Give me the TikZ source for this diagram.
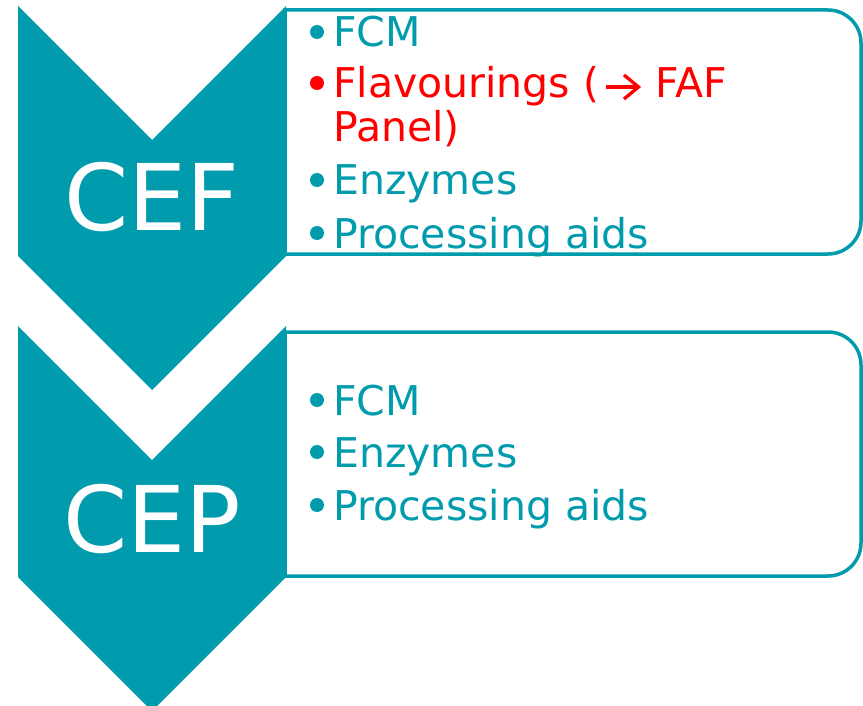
\documentclass[tikz,border=0pt]{standalone}
\usepackage{fontspec}
\setmainfont{DejaVu Sans}
\definecolor{teal}{RGB}{0,155,172}
\definecolor{redtext}{RGB}{255,0,0}
\begin{document}
\begin{tikzpicture}[x=1pt,y=-1pt,
  chev/.style={fill=teal,draw=none},
  listbox/.style={draw=teal,line width=3.5pt,fill=white},
  big/.style={text=white,inner sep=0pt,anchor=base,font=\fontsize{92}{92}\selectfont},
  item/.style={text=teal,inner sep=0pt,anchor=base west,font=\fontsize{41}{41}\selectfont},
  reditem/.style={item,text=redtext},
  dot/.style={circle,fill=teal,inner sep=0pt,minimum size=14pt},
  reddot/.style={dot,fill=redtext},
  redarrow/.style={draw=redtext,line width=3.3pt}]
\useasboundingbox (0,0) rectangle (863,706);
% boxes
\draw[listbox] (285,10) -- (828,10) arc[start angle=-90,end angle=0,radius=33]
  -- (861,221) arc[start angle=0,end angle=90,radius=33] -- (285,254) -- cycle;
\draw[listbox] (285,332) -- (828,332) arc[start angle=-90,end angle=0,radius=33]
  -- (861,543) arc[start angle=0,end angle=90,radius=33] -- (285,576) -- cycle;
% chevrons
\fill[chev] (18,6) -- (152,140) -- (286,6) -- (286,256) -- (152,390) -- (18,256) -- cycle;
\fill[chev] (18,326) -- (152,460) -- (286,326) -- (286,577) -- (152,711) -- (18,577) -- cycle;
\node[big] (cef) at (152,230) {CEF};
\node[big] (cep) at (152,552) {CEP};
% list 1
\node[dot] (b1) at (317,32) {};
\node[item] (t1) at (333,47) {FCM};
\node[reddot] (b2) at (317,83) {};
\node[reditem] (t2) at (333,98) {Flavourings (};
\coordinate (a1) at (606,87);
\coordinate (a2) at (638,87);
\draw[redarrow] (a1) -- (a2);
\draw[redarrow,line join=miter] (624,75) -- (638.5,87) -- (624,99);
\node[reditem] (t2b) at (655,98) {FAF};
\node[reditem] (t3) at (333,142) {Panel)};
\node[dot] (b4) at (317,180) {};
\node[item] (t4) at (333,195) {Enzymes};
\node[dot] (b5) at (317,233) {};
\node[item] (t5) at (333,248) {Processing aids};
% list 2
\node[dot] (c1) at (317,400) {};
\node[item] (u1) at (333,415) {FCM};
\node[dot] (c2) at (317,452) {};
\node[item] (u2) at (333,467) {Enzymes};
\node[dot] (c3) at (317,505) {};
\node[item] (u3) at (333,520) {Processing aids};
\end{tikzpicture}
\end{document}
